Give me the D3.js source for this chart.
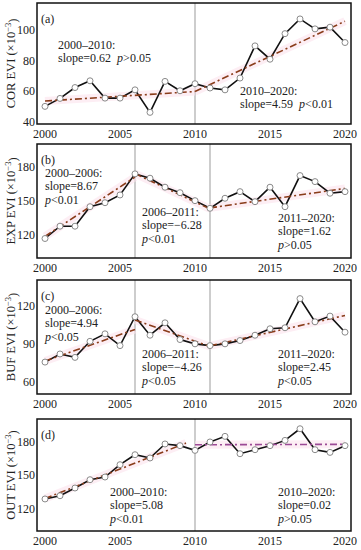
<!DOCTYPE html>
<html lang="en">
<head>
<meta charset="utf-8">
<title>EVI trends</title>
<script src="https://cdn.jsdelivr.net/npm/d3@7"></script>
<style>
body { margin: 0; background: #fff; }
svg text { font-family: "Liberation Serif", "Times New Roman", serif; fill: #222; }
</style>
</head>
<body>
<script>
// data (EVI x10^-3)
var years = d3.range(2000, 2021);
var corEvi = [50.0, 55.2, 62.3, 66.7, 55.4, 55.4, 60.8, 46.1, 66.3, 60.2, 64.8, 62.0, 60.8, 68.5, 89.5, 80.8, 97.5, 107.1, 100.6, 101.7, 91.7];
var expEvi = [117.1, 127.9, 127.9, 145.0, 148.5, 155.3, 173.8, 170.0, 162.1, 157.3, 150.3, 143.6, 152.4, 158.2, 149.4, 162.1, 145.0, 172.3, 167.0, 156.8, 158.2];
var bufEvi = [75.2, 81.6, 78.9, 91.6, 97.5, 88.2, 111.0, 96.4, 106.2, 93.0, 89.6, 88.2, 89.6, 92.2, 96.4, 101.5, 102.3, 125.3, 107.0, 111.5, 98.8];
var outEvi = [128.6, 131.5, 138.4, 145.8, 148.2, 159.2, 168.1, 165.2, 177.7, 176.2, 172.0, 179.5, 184.5, 169.0, 172.6, 176.2, 180.9, 191.3, 172.6, 170.2, 176.2];

// trend segments: [x0, y0, x1, y1]
var corTrend = [[2000, 53.5, 2010, 59.7], [2010, 59.7, 2020, 105.6]];
var expTrend = [[2000, 119, 2006, 171], [2006, 174, 2011, 143], [2011, 144, 2020, 161]];
var bufTrend = [[2000, 76, 2006, 101], [2006, 108.5, 2011, 87.5], [2011, 88, 2020, 112]];
var outTrend = [[2000, 129, 2009.4, 178.5], [2010, 177, 2020, 177.4]];

var corBreaks = [2010];
var expBreaks = [2006, 2011];
var bufBreaks = [2006, 2011];
var outBreaks = [2010];

var xTicks = [2000, 2005, 2010, 2015, 2020];
var corTicks = [40, 60, 80, 100];
var expTicks = [120, 150, 180];
var bufTicks = [60, 90, 120];
var outTicks = [120, 150, 180];

var yNames = ["COR", "EXP", "BUF", "OUT"];
var panelTags = ["(a)", "(b)", "(c)", "(d)"];

// "p" before < or > is set in italics
var corNotes = [
  {x: 58, y: 49, lines: ["2000\u20132010:", "slope=0.62  p>0.05"]},
  {x: 240, y: 95, lines: ["2010\u20132020:", "slope=4.59  p<0.01"]}
];
var expNotes = [
  {x: 45, y: 177, lines: ["2000\u20132006:", "slope=8.67", "p<0.01"]},
  {x: 142, y: 216, lines: ["2006\u20132011:", "slope=\u22126.28", "p<0.01"]},
  {x: 278, y: 222, lines: ["2011\u20132020:", "slope=1.62", "p>0.05"]}
];
var bufNotes = [
  {x: 45, y: 314, lines: ["2000\u20132006:", "slope=4.94", "p<0.05"]},
  {x: 142, y: 358, lines: ["2006\u20132011:", "slope=\u22124.26", "p<0.05"]},
  {x: 278, y: 358, lines: ["2011\u20132020:", "slope=2.45", "p<0.05"]}
];
var outNotes = [
  {x: 110, y: 496, lines: ["2000\u20132010:", "slope=5.08", "p<0.01"]},
  {x: 278, y: 496, lines: ["2010\u20132020:", "slope=0.02", "p>0.05"]}
];

var panels = [
  {vals: corEvi, trend: corTrend, trendColor: ["#8a3c1a", "#8a3c1a"], breaks: corBreaks, ticks: corTicks, notes: corNotes, top: 3, bottom: 124, domain: [38.5, 117.5]},
  {vals: expEvi, trend: expTrend, trendColor: ["#8a3c1a", "#8a3c1a", "#8a3c1a"], breaks: expBreaks, ticks: expTicks, notes: expNotes, top: 144, bottom: 258, domain: [100, 200]},
  {vals: bufEvi, trend: bufTrend, trendColor: ["#8a3c1a", "#8a3c1a", "#8a3c1a"], breaks: bufBreaks, ticks: bufTicks, notes: bufNotes, top: 280, bottom: 394, domain: [50, 140]},
  {vals: outEvi, trend: outTrend, trendColor: ["#8a3c1a", "#9c4a96"], breaks: outBreaks, ticks: outTicks, notes: outNotes, top: 419, bottom: 531, domain: [100, 200]}
];

var W = 361, H = 550;
var left = 37, right = 351;

var svg = d3.select("body").append("svg")
  .attr("width", W)
  .attr("height", H);

var x = d3.scaleLinear().domain([2000, 2020]).range([45, 345]);

panels.forEach(function(p, k) {
  var y = d3.scaleLinear().domain(p.domain).range([p.bottom, p.top]);
  var g = svg.append("g");

  // break lines
  g.selectAll("line.brk")
    .data(p.breaks)
    .enter().append("line")
    .attr("x1", function(d) { return x(d); })
    .attr("x2", function(d) { return x(d); })
    .attr("y1", p.top)
    .attr("y2", p.bottom)
    .attr("stroke", "#bdbdbd")
    .attr("stroke-width", 1.5);

  // faint pink band under trends
  g.selectAll("line.band")
    .data(p.trend)
    .enter().append("line")
    .attr("x1", function(d) { return x(d[0]); })
    .attr("y1", function(d) { return y(d[1]); })
    .attr("x2", function(d) { return x(d[2]); })
    .attr("y2", function(d) { return y(d[3]); })
    .attr("stroke", "#fde3ee")
    .attr("stroke-width", 8)
    .attr("opacity", 0.6);

  var line = d3.line()
    .x(function(d, i) { return x(years[i]); })
    .y(function(d) { return y(d); });

  g.append("path")
    .datum(p.vals)
    .attr("d", line)
    .attr("fill", "none")
    .attr("stroke", "#111")
    .attr("stroke-width", 1.6);

  g.selectAll("line.trend")
    .data(p.trend)
    .enter().append("line")
    .attr("x1", function(d) { return x(d[0]); })
    .attr("y1", function(d) { return y(d[1]); })
    .attr("x2", function(d) { return x(d[2]); })
    .attr("y2", function(d) { return y(d[3]); })
    .attr("stroke", function(d, i) { return p.trendColor[i]; })
    .attr("stroke-width", 1.6)
    .attr("stroke-dasharray", "7,3,2,3");

  g.selectAll("circle")
    .data(p.vals)
    .enter().append("circle")
    .attr("cx", function(d, i) { return x(years[i]); })
    .attr("cy", function(d) { return y(d); })
    .attr("r", 3)
    .attr("fill", "#fff")
    .attr("stroke", "#8a8a8a")
    .attr("stroke-width", 1);

  // frame
  g.append("rect")
    .attr("x", left)
    .attr("y", p.top)
    .attr("width", right - left)
    .attr("height", p.bottom - p.top)
    .attr("fill", "none")
    .attr("stroke", "#111")
    .attr("stroke-width", 1.5);

  // y tick labels
  g.selectAll("text.yt")
    .data(p.ticks)
    .enter().append("text")
    .attr("x", left - 2)
    .attr("y", function(d) { return y(d); })
    .attr("dy", "0.35em")
    .attr("text-anchor", "end")
    .style("font-size", "12px")
    .text(String);

  // x tick labels
  g.selectAll("text.xt")
    .data(xTicks)
    .enter().append("text")
    .attr("x", function(d) { return x(d); })
    .attr("y", p.bottom + 14)
    .attr("text-anchor", "middle")
    .style("font-size", "12px")
    .text(String);

  // y axis title
  var cy = (p.top + p.bottom) / 2;
  var t = g.append("text")
    .attr("transform", "translate(15," + cy + ") rotate(-90)")
    .attr("text-anchor", "middle")
    .style("font-size", "12.5px");
  t.append("tspan").text(yNames[k] + " EVI (\u00d710");
  t.append("tspan").attr("dy", "-0.45em").style("font-size", "8.5px").text("\u22123");
  t.append("tspan").attr("dy", "0.45em").text(")");

  g.append("text")
    .attr("x", 41)
    .attr("y", p.top + 20)
    .style("font-size", "12px")
    .text(panelTags[k]);

  // annotations
  p.notes.forEach(function(n) {
    n.lines.forEach(function(s, i) {
      var tx = g.append("text")
        .attr("x", n.x)
        .attr("y", n.y + i * 13.3)
        .style("font-size", "12px")
        .attr("xml:space", "preserve");
      var parts = s.split(/p(?=[<>])/);
      parts.forEach(function(part, j) {
        if (j > 0) tx.append("tspan").style("font-style", "italic").text("p");
        if (part) tx.append("tspan").text(part);
      });
    });
  });
});
</script>
</body>
</html>
